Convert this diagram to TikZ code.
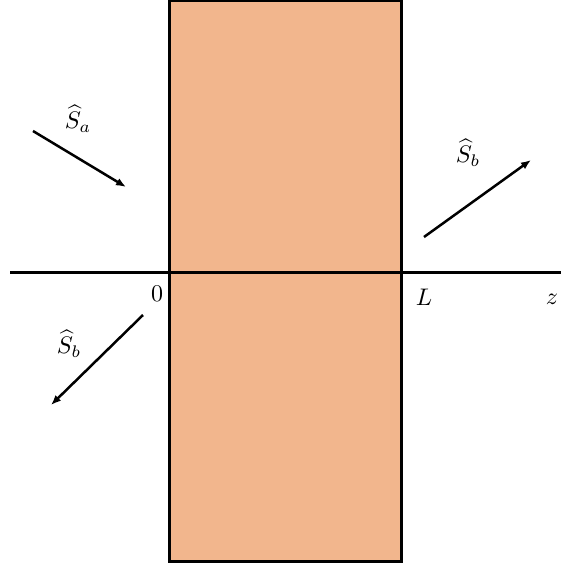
\documentclass[tikz,border=0pt]{standalone}
\usepackage{amsmath,amssymb}
\usepackage{graphicx}
\usepackage{xcolor}
\usetikzlibrary{arrows.meta}
\definecolor{slabfill}{RGB}{242,182,141}
\newcommand{\biglbl}[1]{\scalebox{2.4}{$#1$}}
\tikzset{
  slab/.style ={draw=black, fill=slabfill, line width=3pt},
  axis/.style ={draw=black, line width=3pt},
  ray/.style  ={-{Latex[length=10pt,width=8pt]}, draw=black, line width=2.5pt},
  lbl/.style  ={inner sep=0pt},
}
\begin{document}
\begin{tikzpicture}[x=1pt,y=-1pt]
\useasboundingbox (0,0) rectangle (561,567);
\draw[slab] (169,1) rectangle (401,561);
\coordinate (zl) at (10,272);
\coordinate (zr) at (561,272);
\draw[axis] (zl) -- (zr);
% incident and outgoing waves
\coordinate (a1) at (33,131);  \coordinate (a2) at (126,187);
\coordinate (b1) at (424,237); \coordinate (b2) at (531,160);
\coordinate (c1) at (143,315); \coordinate (c2) at (51,405);
\draw[ray] (a1) -- (a2);
\draw[ray] (b1) -- (b2);
\draw[ray] (c1) -- (c2);
\node[lbl] (sa)  at (78,119)  {\biglbl{\widehat{S}_a}};
\node[lbl] (sbr) at (468,153) {\biglbl{\widehat{S}_b}};
\node[lbl] (sbl) at (69,344)  {\biglbl{\widehat{S}_b}};
\node[lbl] (o)   at (157,294) {\biglbl{0}};
\node[lbl] (ll)  at (424,297) {\biglbl{L}};
\node[lbl] (zz)  at (552,299) {\biglbl{z}};
\end{tikzpicture}
\end{document}
